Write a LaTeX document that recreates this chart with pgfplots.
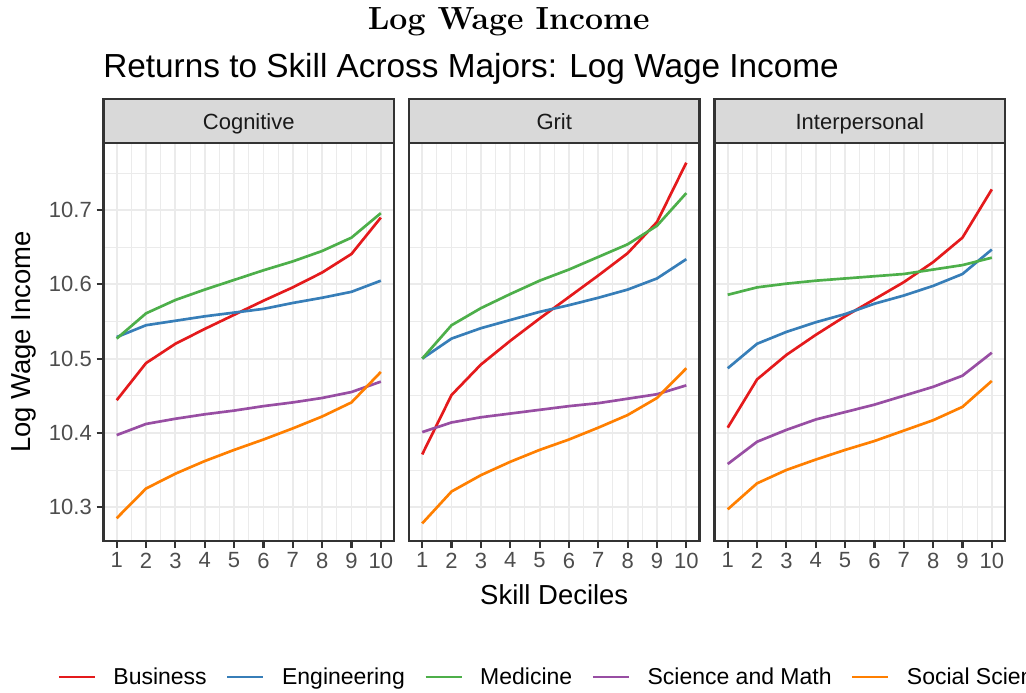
\documentclass[border=0pt]{standalone}
\usepackage{fontspec}
\newfontfamily\arial{Liberation Sans}
\usepackage{pgfplots}
\usepackage{pgfplotstable}
\pgfplotsset{compat=1.18}

\definecolor{cbus}{HTML}{E41A1C}
\definecolor{ceng}{HTML}{377EB8}
\definecolor{cmed}{HTML}{4DAF4A}
\definecolor{csci}{HTML}{984EA3}
\definecolor{csoc}{HTML}{FF7F00}
\definecolor{gridc}{HTML}{EBEBEB}
\definecolor{framec}{HTML}{333333}
\definecolor{tickc}{HTML}{4D4D4D}
\definecolor{stripc}{HTML}{D9D9D9}
\definecolor{striptext}{HTML}{1A1A1A}

\pgfplotstableread{
x bus eng med sci soc
1 10.444 10.529 10.527 10.397 10.285
2 10.494 10.545 10.561 10.412 10.325
3 10.520 10.551 10.579 10.419 10.345
4 10.540 10.557 10.593 10.425 10.362
5 10.559 10.562 10.606 10.430 10.377
6 10.578 10.567 10.619 10.436 10.391
7 10.596 10.575 10.631 10.441 10.406
8 10.616 10.582 10.645 10.447 10.422
9 10.641 10.590 10.663 10.455 10.441
10 10.690 10.605 10.696 10.469 10.482
}\cognitive

\pgfplotstableread{
x bus eng med sci soc
1 10.371 10.500 10.500 10.401 10.278
2 10.451 10.527 10.545 10.414 10.321
3 10.492 10.541 10.568 10.421 10.343
4 10.524 10.552 10.587 10.426 10.361
5 10.554 10.563 10.605 10.431 10.377
6 10.583 10.572 10.620 10.436 10.391
7 10.612 10.582 10.637 10.440 10.407
8 10.642 10.593 10.654 10.446 10.424
9 10.684 10.608 10.679 10.452 10.447
10 10.764 10.634 10.723 10.464 10.487
}\grit

\pgfplotstableread{
x bus eng med sci soc
1 10.407 10.487 10.586 10.358 10.297
2 10.472 10.520 10.596 10.388 10.332
3 10.505 10.536 10.601 10.404 10.350
4 10.532 10.549 10.605 10.418 10.364
5 10.557 10.560 10.608 10.428 10.377
6 10.580 10.574 10.611 10.438 10.389
7 10.603 10.585 10.614 10.450 10.403
8 10.630 10.598 10.620 10.462 10.417
9 10.663 10.614 10.626 10.477 10.435
10 10.728 10.647 10.636 10.508 10.470
}\interp

\pgfplotsset{
  panel/.style={
    anchor=south west,
    width=217.9pt, height=298.5pt, scale only axis,
    xmin=0.55, xmax=10.45, ymin=10.2543, ymax=10.7905,
    xtick={1,...,10}, ytick={10.3,10.4,10.5,10.6,10.7},
    minor xtick={1.5,2.5,3.5,4.5,5.5,6.5,7.5,8.5,9.5},
    minor ytick={10.25,10.35,10.45,10.55,10.65,10.75},
    grid=both,
    major grid style={color=gridc, line width=1.4pt},
    minor grid style={color=gridc, line width=0.7pt},
    axis line style={color=framec, line width=1.7pt},
    tick align=outside, tick pos=left,
    major tick length=5.25pt, minor tick length=0pt,
    major tick style={color=framec, line width=1.6pt},
    tick label style={font=\arial\fontsize{16.5}{19}\selectfont, text=tickc},
    /pgf/number format/assume math mode=true,
    yticklabel style={/pgf/number format/.cd, fixed, fixed zerofill, precision=1},
    label style={font=\arial\fontsize{20.6}{24}\selectfont, text=black},
    every axis plot/.append style={line width=2pt, line join=round},
  },
  inner/.style={yticklabels={}, ytick style={draw=none}},
}

\begin{document}
\begin{tikzpicture}
\useasboundingbox (0,0) rectangle (769.5pt,-519.75pt);

% titles
\node[anchor=base, inner sep=0pt, font=\bfseries\fontsize{24}{28}\selectfont] at (381.5pt,-21.75pt) {Log Wage Income};
\node[anchor=base west, inner sep=0pt, font=\arial\fontsize{25}{30}\selectfont] at (77.3pt,-57.75pt) {Returns to Skill Across Majors: Log Wage Income};

% Panel 1
\begin{axis}[panel, at={(77.625pt,-405.75pt)},
  ylabel={Log Wage Income},
  ylabel style={at={(axis description cs:-0.274,0.5)}, anchor=center},
  legend style={at={(axis description cs:-0.1595,-0.3417)}, anchor=west, draw=none, fill=none,
    inner sep=0pt, legend columns=5,
    font=\arial\fontsize{17.25}{20}\selectfont,
    nodes={inner sep=0pt},
    /tikz/every odd column/.append style={column sep=13pt},
    /tikz/every even column/.append style={column sep=14.5pt}},
  legend image code/.code={\draw[#1] (0pt,0pt) -- (27pt,0pt);},
]
\addplot[cbus] table[x=x,y=bus]{\cognitive};
\addplot[ceng] table[x=x,y=eng]{\cognitive};
\addplot[cmed] table[x=x,y=med]{\cognitive};
\addplot[csci] table[x=x,y=sci]{\cognitive};
\addplot[csoc] table[x=x,y=soc]{\cognitive};
\legend{Business, Engineering, Medicine, Science and Math, Social Science}
\end{axis}

% Panel 2
\begin{axis}[panel, inner, at={(306.75pt,-405.75pt)},
  xlabel={Skill Deciles},
  xlabel style={at={(axis description cs:0.5,-0.1357)}, anchor=center}]
\addplot[cbus] table[x=x,y=bus]{\grit};
\addplot[ceng] table[x=x,y=eng]{\grit};
\addplot[cmed] table[x=x,y=med]{\grit};
\addplot[csci] table[x=x,y=sci]{\grit};
\addplot[csoc] table[x=x,y=soc]{\grit};
\end{axis}

% Panel 3
\begin{axis}[panel, inner, at={(535.875pt,-405.75pt)}]
\addplot[cbus] table[x=x,y=bus]{\interp};
\addplot[ceng] table[x=x,y=eng]{\interp};
\addplot[cmed] table[x=x,y=med]{\interp};
\addplot[csci] table[x=x,y=sci]{\interp};
\addplot[csoc] table[x=x,y=soc]{\interp};
\end{axis}

% strips
\foreach \xl/\lab in {77.625/Cognitive, 306.75/Grit, 535.875/Interpersonal}{
  \draw[fill=stripc, draw=framec, line width=1.7pt] (\xl pt,-107.25pt) rectangle ++(217.9pt,33pt);
  \node[anchor=base, inner sep=0pt, font=\arial\fontsize{16.5}{19}\selectfont, text=striptext] at ([xshift=108.95pt]\xl pt,-96.75pt) {\lab};
}
\end{tikzpicture}
\end{document}
